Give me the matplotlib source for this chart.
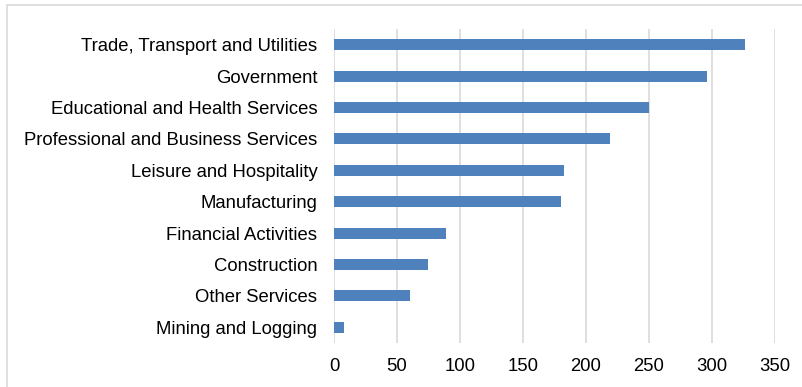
import matplotlib.pyplot as plt
from matplotlib.patches import Rectangle

plt.rcParams['font.family'] = ['Liberation Sans', 'DejaVu Sans']

# Jobs by industry sector
sectors = [
    'Trade, Transport and Utilities',
    'Government',
    'Educational and Health Services',
    'Professional and Business Services',
    'Leisure and Hospitality',
    'Manufacturing',
    'Financial Activities',
    'Construction',
    'Other Services',
    'Mining and Logging',
]
jobs = [326, 296, 250, 219, 182.5, 180, 89, 75, 60, 8]
x_ticks = [0, 50, 100, 150, 200, 250, 300, 350]

fig = plt.figure(figsize=(8.03, 3.87), dpi=100)
ax = fig.add_axes([334 / 803, 44 / 387, 441 / 803, 314 / 387])

pos = list(range(len(sectors)))
ax.barh(pos, jobs, height=0.35, color='#4F81BD', zorder=3)

ax.set_xlim(0, 350)
ax.set_ylim(len(sectors) - 0.5, -0.5)
ax.set_xticks(x_ticks)
ax.set_yticks(pos)
ax.set_yticklabels(sectors)
ax.tick_params(axis='both', length=0, labelsize=13.3, colors='#000000')
ax.tick_params(axis='y', pad=12)
ax.tick_params(axis='x', pad=11)

ax.grid(axis='x', color='#D9D9D9', linewidth=1.2, zorder=0)
for s in ax.spines.values():
    s.set_visible(False)

# chart area frame
fig.patches.append(Rectangle((7 / 803, -0.1), 1.1, (387 - 5) / 387 + 0.1,
                             transform=fig.transFigure, fill=False,
                             edgecolor='#D9D9D9', linewidth=1.2))

fig.savefig('out.png', dpi=100)
